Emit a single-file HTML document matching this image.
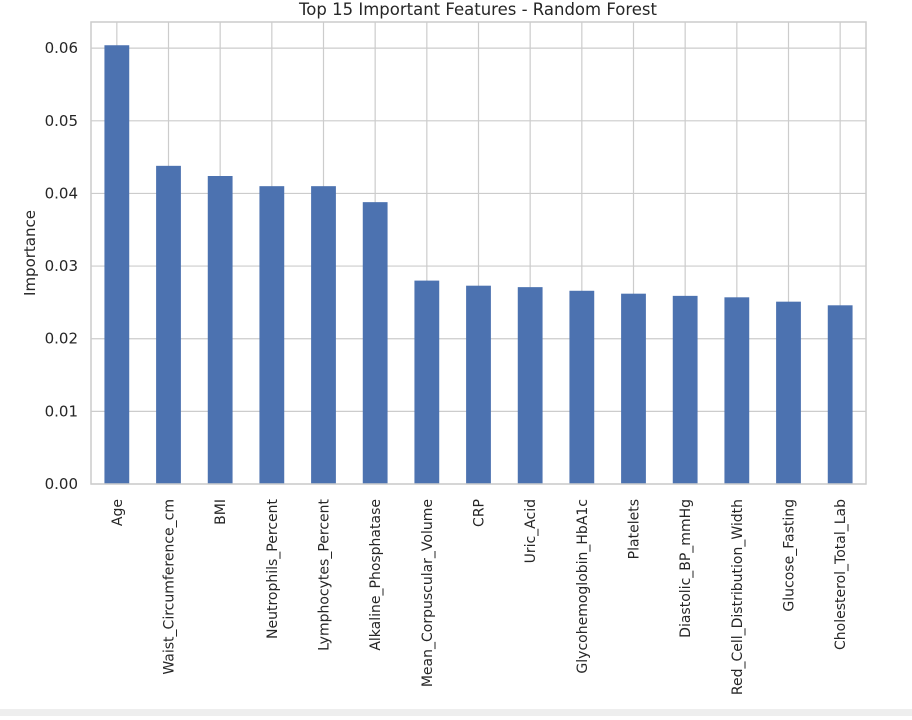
<!DOCTYPE html>
<html><head><meta charset="utf-8"><style>
body{margin:0;background:#fff;width:912px;height:716px;overflow:hidden;font-family:"DejaVu Sans","Liberation Sans",sans-serif;}
</style></head><body>
<svg id="chart" width="912" height="716" xmlns="http://www.w3.org/2000/svg">
<rect x="0" y="709" width="912" height="7" fill="#eeeeee"/>
<text x="478" y="15" text-anchor="middle" font-size="16.5" fill="#262626">Top 15 Important Features - Random Forest</text>
<text transform="translate(35,253) rotate(-90)" text-anchor="middle" font-size="15" fill="#262626">Importance</text>
<g id="grid"></g><g id="bars"></g><g id="ticks"></g>
<rect x="91" y="22" width="775" height="462" fill="none" stroke="#cccccc" stroke-width="1.5"/>
</svg>
<script>
const categories=["Age","Waist_Circumference_cm","BMI","Neutrophils_Percent","Lymphocytes_Percent","Alkaline_Phosphatase","Mean_Corpuscular_Volume","CRP","Uric_Acid","Glycohemoglobin_HbA1c","Platelets","Diastolic_BP_mmHg","Red_Cell_Distribution_Width","Glucose_Fasting","Cholesterol_Total_Lab"];
const values=[0.0604,0.0438,0.0424,0.0410,0.0410,0.0388,0.0280,0.0273,0.0271,0.0266,0.0262,0.0259,0.0257,0.0251,0.0246];
const yTicks=[0,0.01,0.02,0.03,0.04,0.05,0.06];
const yTickLabels=["0.00","0.01","0.02","0.03","0.04","0.05","0.06"];
const L=91,R=866,T=22,B=484,yMax=0.0636;
const NS="http://www.w3.org/2000/svg";
const step=(R-L)/categories.length;
function xC(i){return L+step*(i+0.5);}
function yS(v){return B-(v/yMax)*(B-T);}
const grid=document.getElementById('grid'),bars=document.getElementById('bars'),ticks=document.getElementById('ticks');
yTicks.forEach((t,i)=>{
 const l=document.createElementNS(NS,'line');
 l.setAttribute('x1',L);l.setAttribute('x2',R);l.setAttribute('y1',yS(t));l.setAttribute('y2',yS(t));
 l.setAttribute('stroke','#cccccc');l.setAttribute('stroke-width','1.2');
 
 
 grid.appendChild(l);
 const tx=document.createElementNS(NS,'text');
 tx.setAttribute('x',L-13);tx.setAttribute('y',yS(t)+5);tx.setAttribute('text-anchor','end');
 tx.setAttribute('font-size','15');tx.setAttribute('fill','#262626');tx.textContent=yTickLabels[i];
 
 
 ticks.appendChild(tx);
});
categories.forEach((c,i)=>{
 const l=document.createElementNS(NS,'line');
 l.setAttribute('x1',xC(i));l.setAttribute('x2',xC(i));l.setAttribute('y1',T);l.setAttribute('y2',B);
 l.setAttribute('stroke','#cccccc');l.setAttribute('stroke-width','1.2');
 
 
 grid.appendChild(l);
 const w=step*0.48;
 const r=document.createElementNS(NS,'rect');
 r.setAttribute('x',xC(i)-w/2);r.setAttribute('width',w);
 r.setAttribute('y',yS(values[i]));r.setAttribute('height',B-yS(values[i]));
 r.setAttribute('fill','#4c72b0');
 
 
 bars.appendChild(r);
 const tx=document.createElementNS(NS,'text');
 tx.setAttribute('transform','translate('+(xC(i)+5)+',499) rotate(-90)');
 tx.setAttribute('text-anchor','end');tx.setAttribute('font-size','14');tx.setAttribute('fill','#262626');
 tx.textContent=c;
 
 
 ticks.appendChild(tx);
});
</script>
</body></html>
